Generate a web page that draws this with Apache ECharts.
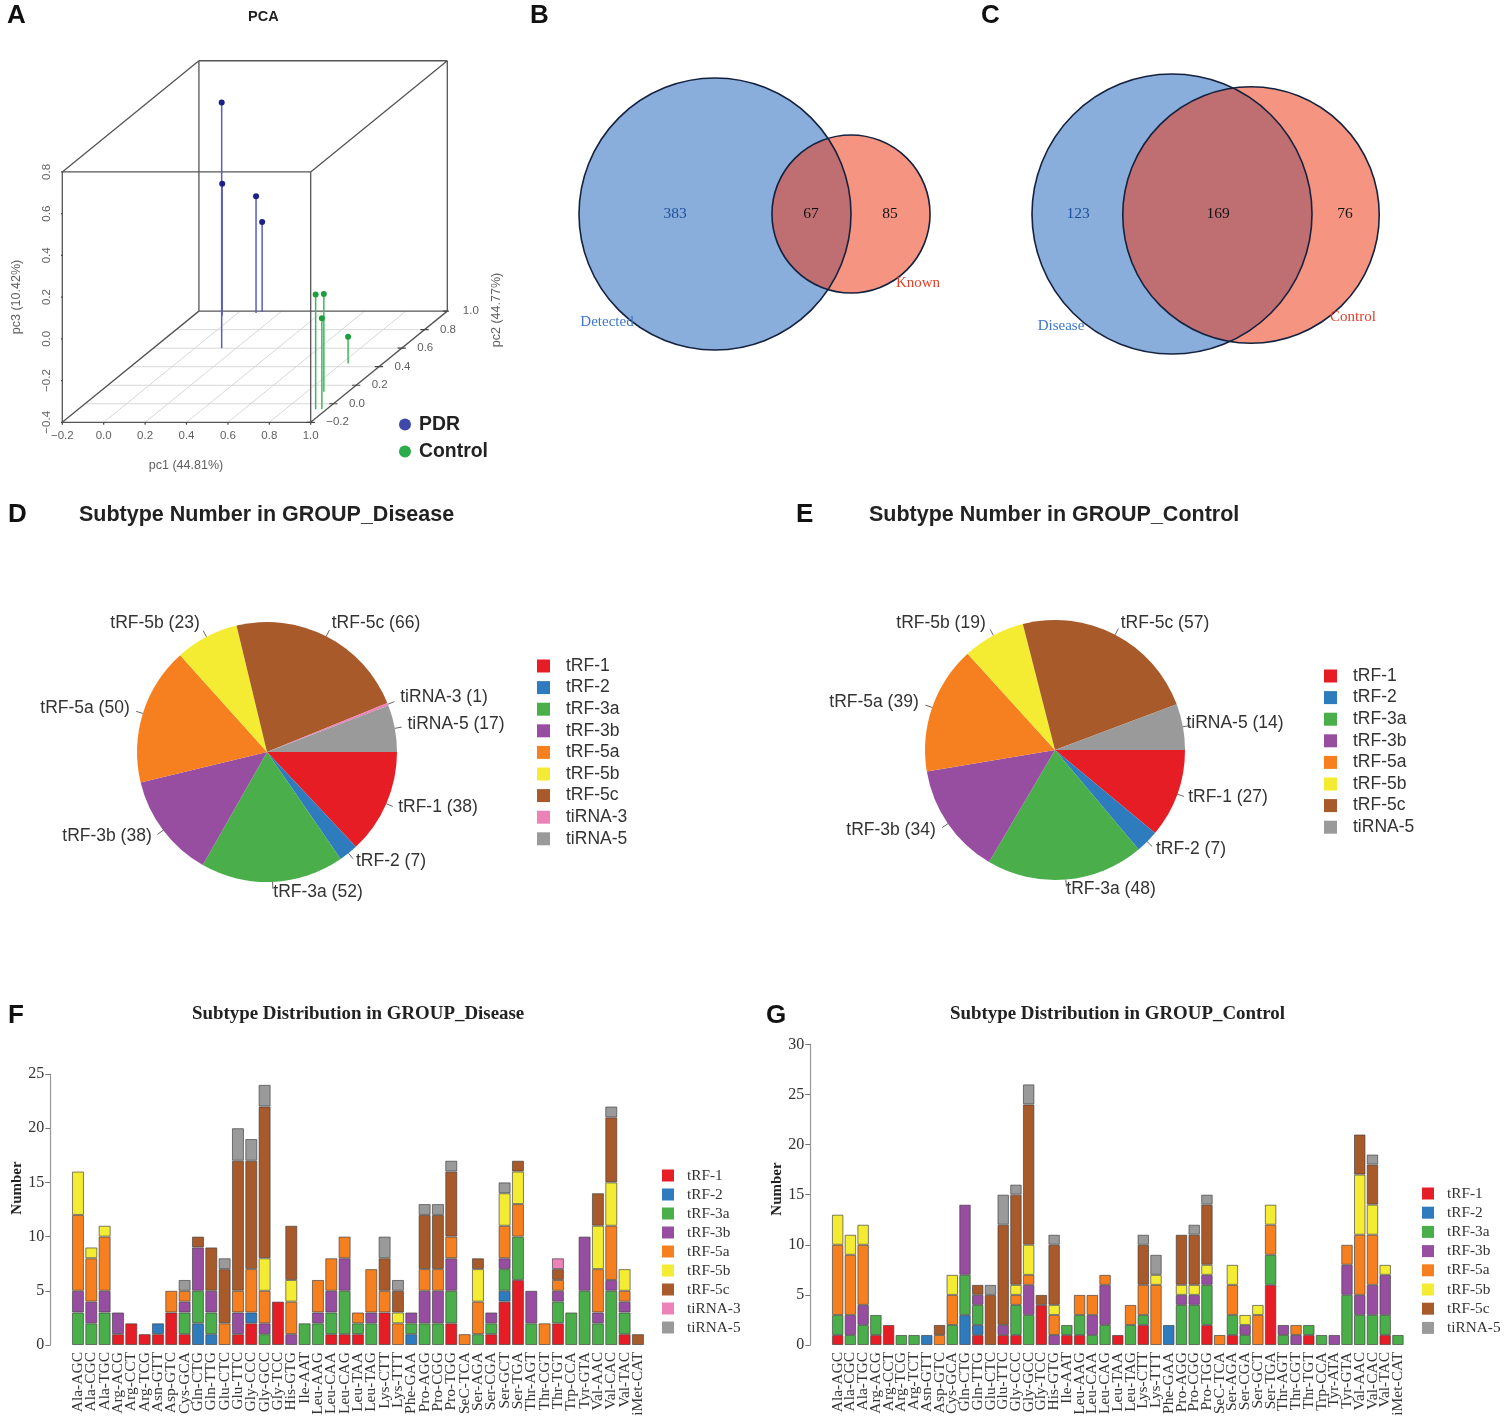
<!DOCTYPE html>
<html><head><meta charset="utf-8">
<style>html,body{margin:0;padding:0;background:#fff}#c{width:1506px;height:1423px}</style>
<script src="https://cdn.jsdelivr.net/npm/echarts@6/dist/echarts.min.js"></script>
</head><body><div id="c"></div>
<script>
// ---------- DATA ----------
const subtypes = ['tRF-1','tRF-2','tRF-3a','tRF-3b','tRF-5a','tRF-5b','tRF-5c','tiRNA-3','tiRNA-5'];
const subtypesControl = ['tRF-1','tRF-2','tRF-3a','tRF-3b','tRF-5a','tRF-5b','tRF-5c','tiRNA-5'];
const pieDisease = [38,7,52,38,50,23,66,1,17];
const pieControl = [27,7,48,34,39,19,57,14];

const catsDisease = ['Ala-AGC','Ala-CGC','Ala-TGC','Arg-ACG','Arg-CCT','Arg-TCG','Asn-GTT','Asp-GTC','Cys-GCA','Gln-CTG','Gln-TTG','Glu-CTC','Glu-TTC','Gly-CCC','Gly-GCC','Gly-TCC','His-GTG','Ile-AAT','Leu-AAG','Leu-CAA','Leu-CAG','Leu-TAA','Leu-TAG','Lys-CTT','Lys-TTT','Phe-GAA','Pro-AGG','Pro-CGG','Pro-TGG','SeC-TCA','Ser-AGA','Ser-CGA','Ser-GCT','Ser-TGA','Thr-AGT','Thr-CGT','Thr-TGT','Trp-CCA','Tyr-GTA','Val-AAC','Val-CAC','Val-TAC','iMet-CAT'];
const dis_tRF1  = [0,0,0,1,2,1,1,3,1,0, 0,0,1,2,0,4,0,0,0,1, 1,1,0,3,0,0,0,0,2,0, 0,1,4,6,0,0,2,0,0,0, 0,1,0];
const dis_tRF2  = [0,0,0,0,0,0,1,0,0,2, 1,0,0,1,0,0,0,0,0,0, 0,0,0,0,0,1,0,0,0,0, 0,0,1,0,0,0,0,0,0,0, 0,0,0];
const dis_tRF3a = [3,2,3,0,0,0,0,0,2,3, 2,0,0,0,1,0,0,2,2,2, 4,1,2,0,0,1,2,2,3,0, 1,1,2,4,2,0,2,3,5,2, 5,2,0];
const dis_tRF3b = [2,2,2,2,0,0,0,0,1,4, 2,0,2,0,1,0,1,0,1,2, 3,0,1,0,0,1,3,3,3,0, 0,1,1,0,3,0,1,0,5,1, 1,1,0];
const dis_tRF5a = [7,4,5,0,0,0,0,2,1,0, 0,2,2,4,3,0,3,0,3,3, 2,1,4,2,2,0,2,2,2,1, 3,0,3,3,0,2,1,0,0,4, 5,1,0];
const dis_tRF5b = [4,1,1,0,0,0,0,0,0,0, 0,0,0,0,3,0,2,0,0,0, 0,0,0,0,1,0,0,0,0,0, 3,0,3,3,0,0,0,0,0,4, 4,2,0];
const dis_tRF5c = [0,0,0,0,0,0,0,0,0,1, 4,5,12,10,14,0,5,0,0,0, 0,0,0,3,2,0,5,5,6,0, 1,0,0,1,0,0,1,0,0,3, 6,0,1];
const dis_tiRNA3= [0,0,0,0,0,0,0,0,0,0, 0,0,0,0,0,0,0,0,0,0, 0,0,0,0,0,0,0,0,0,0, 0,0,0,0,0,0,1,0,0,0, 0,0,0];
const dis_tiRNA5= [0,0,0,0,0,0,0,0,1,0, 0,1,3,2,2,0,0,0,0,0, 0,0,0,2,1,0,1,1,1,0, 0,0,1,0,0,0,0,0,0,0, 1,0,0];

const catsControl = ['Ala-AGC','Ala-CGC','Ala-TGC','Arg-ACG','Arg-CCT','Arg-TCG','Arg-TCT','Asn-GTT','Asp-GTC','Cys-GCA','Gln-CTG','Gln-TTG','Glu-CTC','Glu-TTC','Gly-CCC','Gly-GCC','Gly-TCC','His-GTG','Ile-AAT','Leu-AAG','Leu-CAA','Leu-CAG','Leu-TAA','Leu-TAG','Lys-CTT','Lys-TTT','Phe-GAA','Pro-AGG','Pro-CGG','Pro-TGG','SeC-TCA','Ser-AGA','Ser-CGA','Ser-GCT','Ser-TGA','Thr-AGT','Thr-CGT','Thr-TGT','Trp-CCA','Tyr-ATA','Tyr-GTA','Val-AAC','Val-CAC','Val-TAC','iMet-CAT'];
const con_tRF1  = [1,0,0,1,2,0,0,0,0,0, 0,1,0,1,1,0,4,0,1,1, 0,0,1,0,2,0,0,0,0,2, 0,1,0,0,6,0,0,1,0,0, 0,0,0,1,0];
const con_tRF2  = [0,0,0,0,0,0,0,1,0,0, 3,1,0,0,0,0,0,0,0,0, 0,0,0,0,0,0,2,0,0,0, 0,0,0,0,0,0,0,0,0,0, 0,0,0,0,0];
const con_tRF3a = [2,1,2,2,0,1,1,0,0,2, 4,2,0,0,3,3,0,0,1,2, 1,2,0,2,1,0,0,4,4,4, 0,2,1,0,3,1,0,1,1,0, 5,3,3,2,1];
const con_tRF3b = [0,2,2,0,0,0,0,0,0,0, 7,1,0,1,0,3,0,1,0,0, 2,4,0,0,0,0,0,1,1,1, 0,0,1,0,0,1,1,0,0,1, 3,2,3,4,0];
const con_tRF5a = [7,6,6,0,0,0,0,0,1,3, 0,0,0,0,1,1,0,2,0,2, 2,1,0,2,3,6,0,0,0,0, 1,3,0,3,3,0,1,0,0,0, 2,6,5,0,0];
const con_tRF5b = [3,2,2,0,0,0,0,0,0,2, 0,0,0,0,1,3,0,1,0,0, 0,0,0,0,0,1,0,1,1,1, 0,2,1,1,2,0,0,0,0,0, 0,6,3,1,0];
const con_tRF5c = [0,0,0,0,0,0,0,0,1,0, 0,1,5,10,9,14,1,6,0,0, 0,0,0,0,4,0,0,5,5,6, 0,0,0,0,0,0,0,0,0,0, 0,4,4,0,0];
const con_tiRNA5= [0,0,0,0,0,0,0,0,0,0, 0,0,1,3,1,2,0,1,0,0, 0,0,0,0,1,2,0,0,1,1, 0,0,0,0,0,0,0,0,0,0, 0,0,1,0,0];

const vennBCounts = [383,67,85];
const vennBNames = ['Detected','Known'];
const vennCCounts = [123,169,76];
const vennCNames = ['Disease','Control'];

// PCA: [pc1, pc2, pc3]
const pcaPDR = [[0.13,0.60,0.778],[-0.06,0.95,0.233],[0.087,0.98,0.159],[0.111,0.99,0.032]];
const pcaControl = [[0.947,-0.06,0.15],[0.882,0.13,0.068],[0.977,-0.06,0.036],[0.832,0.434,-0.271]];
const pc1Ticks = [-0.2,0,0.2,0.4,0.6,0.8,1.0];
const pc2Ticks = [-0.2,0,0.2,0.4,0.6,0.8,1.0];
const pc3Ticks = [-0.4,-0.2,0,0.2,0.4,0.6,0.8];

// ---------- STYLE / LAYOUT ----------
const colors = {'tRF-1':'#e71d25','tRF-2':'#2e7bbd','tRF-3a':'#4aae4a','tRF-3b':'#984ea0','tRF-5a':'#f6801f','tRF-5b':'#f4ec32','tRF-5c':'#a85a2a','tiRNA-3':'#ec82b8','tiRNA-5':'#9a9a9a'};
const SANS = '"Liberation Sans", Arial, sans-serif', SERIF = '"Liberation Serif", "Times New Roman", serif';

// PCA oblique projection
const DX = 0.55, DY = 0.444;
const proj = (a,b,c) => [a + DX*(b+0.2), c + DY*(b+0.2)];
function segs(list){ const out=[]; list.forEach(s=>{ out.push(proj(...s[0]),proj(...s[1]),['-','-']); }); return out; }
const a0=-0.2,a1=1,b0=-0.2,b1=1,c0=-0.4,c1=0.8;
const boxEdges = segs([
 [[a0,b0,c0],[a1,b0,c0]],[[a1,b0,c0],[a1,b0,c1]],[[a1,b0,c1],[a0,b0,c1]],[[a0,b0,c1],[a0,b0,c0]],
 [[a0,b1,c0],[a1,b1,c0]],[[a1,b1,c0],[a1,b1,c1]],[[a1,b1,c1],[a0,b1,c1]],[[a0,b1,c1],[a0,b1,c0]],
 [[a0,b0,c0],[a0,b1,c0]],[[a1,b0,c0],[a1,b1,c0]],[[a1,b0,c1],[a1,b1,c1]],[[a0,b0,c1],[a0,b1,c1]]
]);
const floorLines = segs([
 ...pc1Ticks.slice(1,-1).map(t=>[[t,b0,c0],[t,b1,c0]]),
 ...pc2Ticks.slice(1,-1).map(t=>[[a0,t,c0],[a1,t,c0]])
]);
const tickLines = segs([
 ...pc1Ticks.map(t=>[[t,b0,c0],[t,b0,c0-0.012]]),
 ...pc3Ticks.map(t=>[[a0,b0,t],[a0-0.012,b0,t]]),
 ...pc2Ticks.map(t=>[[a1-0.02,t,c0],[a1+0.02,t,c0]])
]);
const stems = pts => { const out=[]; pts.forEach(p=>out.push(proj(p[0],p[1],p[2]),proj(p[0],p[1],c0),['-','-'])); return out; };

const lineS = (name,data,color,width,z) => ({name,type:'line',xAxisIndex:0,yAxisIndex:0,data,showSymbol:false,connectNulls:false,silent:true,
  lineStyle:{color,width},z:z||2,clip:false});
const tickLabelBase = {color:'#5f5f5f',fontSize:11.5,fontFamily:SANS};
const GHOST = {color:'rgba(255,255,255,0)',opacity:0};
const tickLabelS = (data,label) => ({type:'scatter',xAxisIndex:0,yAxisIndex:0,symbol:'circle',symbolSize:1,itemStyle:GHOST,silent:true,data,clip:false,z:6,
  label:Object.assign({show:true,opacity:1,formatter:p=>p.name},tickLabelBase,label)});
const fmt = v => v.toFixed(1).replace('-','\u2212');

function pieSeries(cats,vals,center,labelPos){
  return {type:'pie',center,radius:130,startAngle:0,clockwise:true,silent:true,avoidLabelOverlap:false,
    data:cats.map((n,i)=>({name:n,value:vals[i],itemStyle:{color:colors[n]}})),
    label:{show:true,formatter:'{b} ({c})',fontSize:17.5,fontFamily:SANS,color:'#333'},
    labelLine:{show:true,length:7,length2:0,lineStyle:{color:'#666',width:1},smooth:false},
    labelLayout:function(p){const q=labelPos[p.dataIndex];
      const r={x:q[0],y:q[1],align:'center',verticalAlign:'middle'};
      if(p.labelLinePoints){r.labelLinePoints=[p.labelLinePoints[0],p.labelLinePoints[1],p.labelLinePoints[1]];}
      return r;}
  };
}
const pieLabelsD=[[438,807],[391,861],[318,892],[107,836],[85,708],[155,623],[376,623],[444,697],[456,724]];
const pieLabelsE=[[1228,797],[1191,849],[1111,889],[891,830],[874,702],[941,623],[1165,623],[1235,723]];

function barSeries(gi,stack,arrs,names){
  return names.map((n,i)=>({name:n,type:'bar',stack,xAxisIndex:gi,yAxisIndex:gi,barCategoryGap:'10%',silent:true,
    data:arrs[i].map(v=>v===0?'-':v),
    itemStyle:{color:colors[n],borderColor:'rgba(60,60,60,0.65)',borderWidth:1}}));
}
const legendBox=(names,left,top,font,size,gap,txtGap,fs,color)=>({show:true,orient:'vertical',left,top,data:names,icon:'rect',selectedMode:false,
  itemWidth:size,itemHeight:size,itemGap:gap,padding:0,itemStyle:{borderWidth:0},
  textStyle:{fontFamily:font,fontSize:fs,color:color||'#333',padding:[0,0,0,txtGap]}});

// grids: 0 PCA, 1 Venn, 2 bars F, 3 bars G
const grids=[
 {left:62.3,top:60.7,width:385,height:361.6},
 {left:520,top:60,width:900,height:310},
 {left:71.3,top:1074,width:573.3,height:271},
 {left:831.3,top:1044.3,width:573,height:300.7}
];
const hiddenAxis=o=>Object.assign({show:false,type:'value',scale:true,splitLine:{show:false}},o);
const catAxis=(gi,cats)=>({type:'category',gridIndex:gi,data:cats,axisLine:{show:false},axisTick:{show:false},
  axisLabel:{interval:0,rotate:90,margin:7,fontFamily:SERIF,fontSize:15.5,color:'#333'},splitLine:{show:false}});
const numAxis=(gi,max)=>({type:'value',gridIndex:gi,min:0,max,interval:5,offset:21,position:'left',
  axisLine:{show:true,lineStyle:{color:'#999',width:1.2}},axisTick:{show:true,length:5,lineStyle:{color:'#777'}},
  axisLabel:{fontFamily:SERIF,fontSize:16,color:'#333',margin:6},splitLine:{show:false}});

const VK_B = 136/Math.sqrt(vennBCounts[0]+vennBCounts[1]);
const VK_C = 140/Math.sqrt(vennCCounts[0]+vennCCounts[1]);
const vennCircles=[
 [715,214,vennBCounts[0]+vennBCounts[1],VK_B,'blue'],[851,214,vennBCounts[1]+vennBCounts[2],VK_B,'red'],
 [1172,214,vennCCounts[0]+vennCCounts[1],VK_C,'blue'],[1251,215,vennCCounts[1]+vennCCounts[2],VK_C,'red']];
const vennSize=v=>2*v[3]*Math.sqrt(v[2]);
const vennS=(kind,style,z)=>({type:'scatter',xAxisIndex:1,yAxisIndex:1,symbol:'circle',symbolSize:vennSize,silent:true,clip:false,z,
  data:vennCircles.filter(c=>kind==='all'||c[4]===kind).map(c=>c.slice(0,4)),itemStyle:Object.assign({opacity:1},style)});
const DARK='#111'; const BLUET='#1c4f9c'; const REDT='#e0402c';
const vennText=[
 [vennBCounts[0],675,214,BLUET,15.5],[vennBCounts[1],811,214,DARK,15.5],[vennBCounts[2],890,214,DARK,15.5],
 [vennCCounts[0],1078,214,BLUET,15.5],[vennCCounts[1],1218,214,DARK,15.5],[vennCCounts[2],1345,214,DARK,15.5],
 [vennBNames[0],607,322,'#3f78c8',15],[vennBNames[1],918,283,REDT,15],
 [vennCNames[0],1061,326,'#3f78c8',15],[vennCNames[1],1353,317,REDT,15]];

const title=(text,left,top,o)=>({text,left,top,padding:0,textStyle:Object.assign({fontFamily:SANS,fontWeight:'bold',color:'#111',fontSize:26,lineHeight:26},o||{})});
const option={
 animation:false,backgroundColor:'#fff',
 color:Object.values(colors),
 title:[
  title('A',7,3),title('B',530,3),title('C',981,3),title('D',8,502),title('E',796,502),title('F',8,1003),title('G',766,1003),
  title('PCA',248,10,{fontSize:14.5,lineHeight:14,color:'#222'}),
  title('Subtype Number in GROUP_Disease',79,503,{fontSize:21.5,lineHeight:24,color:'#222'}),
  title('Subtype Number in GROUP_Control',869,503,{fontSize:21.5,lineHeight:24,color:'#222'}),
  title('Subtype Distribution in GROUP_Disease',192,1004,{fontFamily:SERIF,fontSize:18.9,lineHeight:20,color:'#222'}),
  title('Subtype Distribution in GROUP_Control',950,1004,{fontFamily:SERIF,fontSize:18.9,lineHeight:20,color:'#222'})
 ],
 legend:[
  Object.assign(legendBox(['PDR','Control'],399,415,SANS,12,8,3,19.4,'#222'),{icon:'circle',textStyle:{fontFamily:SANS,fontSize:19.4,fontWeight:'bold',color:'#222',padding:[0,0,0,3]},
    data:[{name:'PDR',itemStyle:{color:'#3e49a9',opacity:1}},{name:'Control',itemStyle:{color:'#2cab4a',opacity:1}}]}),
  legendBox(subtypes,537,657,SANS,13,3.6,11,17.5),
  legendBox(subtypesControl,1324,667,SANS,13,3.6,11,17.5),
  legendBox(subtypes,662,1168,SERIF,12,4,8,15.3),
  legendBox(subtypesControl,1422,1186,SERIF,12,4.2,8,15.3)
 ],
 grid:grids,
 xAxis:[hiddenAxis({gridIndex:0,min:-0.2,max:1.66}),hiddenAxis({gridIndex:1,min:520,max:1420}),catAxis(2,catsDisease),catAxis(3,catsControl)],
 yAxis:[hiddenAxis({gridIndex:0,min:-0.4,max:1.333}),hiddenAxis({gridIndex:1,min:60,max:370,inverse:true}),numAxis(2,25),numAxis(3,30)],
 series:[
  lineS('floor',floorLines,'#d8d8d8',1,1),
  lineS('box',boxEdges,'#555',1.3,3),
  lineS('ticks',tickLines,'#444',1.2,3),
  lineS('stemsPDR',stems(pcaPDR),'#5a5fb8',1.5,4),
  lineS('stemsCtrl',stems(pcaControl),'#3fb85a',1.5,4),
  {name:'PDR',type:'scatter',xAxisIndex:0,yAxisIndex:0,symbolSize:6,silent:true,z:5,data:pcaPDR.map(p=>proj(...p)),itemStyle:{color:'#1b1f8a',opacity:1},clip:false},
  {name:'Control',type:'scatter',xAxisIndex:0,yAxisIndex:0,symbolSize:6,silent:true,z:5,data:pcaControl.map(p=>proj(...p)),itemStyle:{color:'#1f9e3e',opacity:1},clip:false},
  tickLabelS(pc1Ticks.map(t=>({name:fmt(t),value:proj(t,b0,c0)})),{position:'bottom',distance:7}),
  tickLabelS(pc3Ticks.map(t=>({name:fmt(t),value:proj(a0,b0,t)})),{position:'inside',align:'center',verticalAlign:'middle',rotate:90,offset:[0,-15]}),
  tickLabelS(pc2Ticks.map(t=>({name:fmt(t),value:proj(a1,t,c0)})),{position:'right',distance:15}),
  // Venn
  vennS('blue',{color:'#8aaedb',borderColor:'transparent',borderWidth:0},1),
  vennS('red',{color:'rgba(235,60,25,0.55)',borderColor:'transparent',borderWidth:0},2),
  vennS('all',{color:'rgba(0,0,0,0)',borderColor:'#14213f',borderWidth:1.6},3),
  {type:'scatter',xAxisIndex:1,yAxisIndex:1,symbol:'circle',symbolSize:1,itemStyle:GHOST,silent:true,clip:false,z:4,
   data:vennText.map(t=>({name:String(t[0]),value:[t[1],t[2]],label:{color:t[3],fontSize:t[4],opacity:1}})),
   label:{show:true,opacity:1,position:'inside',formatter:p=>p.name,fontFamily:SERIF}},
  // Pies
  pieSeries(subtypes,pieDisease,[267,752],pieLabelsD),
  pieSeries(subtypesControl,pieControl,[1055,750],pieLabelsE),
  // Bars
  ...barSeries(2,'F',[dis_tRF1,dis_tRF2,dis_tRF3a,dis_tRF3b,dis_tRF5a,dis_tRF5b,dis_tRF5c,dis_tiRNA3,dis_tiRNA5],subtypes),
  ...barSeries(3,'G',[con_tRF1,con_tRF2,con_tRF3a,con_tRF3b,con_tRF5a,con_tRF5b,con_tRF5c,con_tiRNA5],subtypesControl)
 ],
 graphic:[
  {type:'text',x:186,y:466,style:{text:'pc1 (44.81%)',font:'12.5px '+SANS,fill:'#5f5f5f',align:'center',verticalAlign:'middle'}},
  {type:'text',x:17,y:297,rotation:Math.PI/2,style:{text:'pc3 (10.42%)',font:'12.5px '+SANS,fill:'#5f5f5f',align:'center',verticalAlign:'middle'}},
  {type:'text',x:497,y:310,rotation:Math.PI/2,style:{text:'pc2 (44.77%)',font:'12.5px '+SANS,fill:'#5f5f5f',align:'center',verticalAlign:'middle'}},
  {type:'text',x:17,y:1188,rotation:Math.PI/2,style:{text:'Number',font:'bold 15px '+SERIF,fill:'#222',align:'center',verticalAlign:'middle'}},
  {type:'text',x:777,y:1189,rotation:Math.PI/2,style:{text:'Number',font:'bold 15px '+SERIF,fill:'#222',align:'center',verticalAlign:'middle'}}
 ]
};
const chart=echarts.init(document.getElementById('c'),null,{width:1506,height:1423});
chart.setOption(option);
</script></body></html>
